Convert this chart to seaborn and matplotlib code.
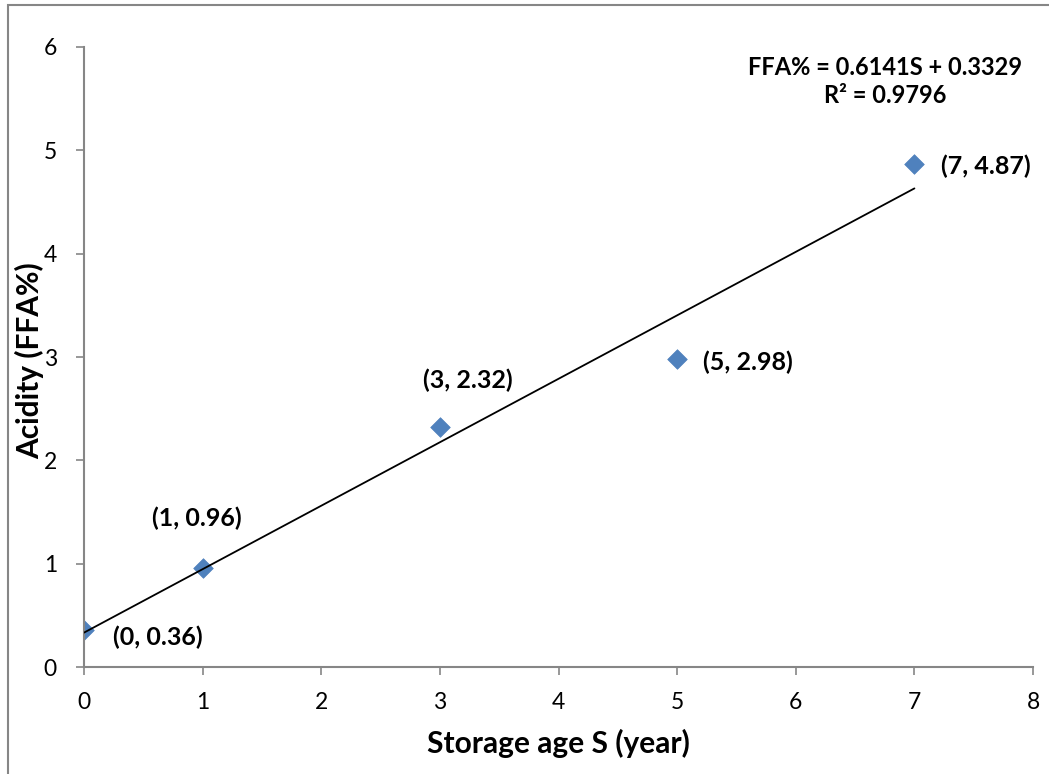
import numpy as np
import pandas as pd
import matplotlib
matplotlib.use("Agg")
import matplotlib.pyplot as plt
from matplotlib.patches import Rectangle
import seaborn as sns

# Storage age (years) and measured acidity (free fatty acid %)
storage_age = [0, 1, 3, 5, 7]
ffa_pct = [0.36, 0.96, 2.32, 2.98, 4.87]
x_ticks = [0, 1, 2, 3, 4, 5, 6, 7, 8]
y_ticks = [0, 1, 2, 3, 4, 5, 6]

sns.set_theme(style="white")
plt.rcParams["font.family"] = ["Lato", "DejaVu Sans"]

df = pd.DataFrame({"S": storage_age, "FFA": ffa_pct})

# Least-squares linear trend
slope, intercept = np.polyfit(df["S"], df["FFA"], 1)
pred = slope * df["S"] + intercept
r2 = 1 - ((df["FFA"] - pred) ** 2).sum() / ((df["FFA"] - df["FFA"].mean()) ** 2).sum()
trend = pd.DataFrame({"S": [min(storage_age), max(storage_age)]})
trend["FFA"] = slope * trend["S"] + intercept

axis_grey = "#868686"
marker_blue = "#4F81BD"

fig = plt.figure(figsize=(10.49, 7.74), dpi=100)
ax = fig.add_axes([0.0801, 0.1382, 0.9047, 0.8011])

sns.scatterplot(data=df, x="S", y="FFA", ax=ax, marker="D", s=100,
                color=marker_blue, edgecolor=marker_blue, linewidth=0.5, zorder=2)
sns.lineplot(data=trend, x="S", y="FFA", ax=ax, color="black", linewidth=1.3, zorder=3)

ax.set_xlim(0, 8)
ax.set_ylim(0, 6)
ax.set_xticks(x_ticks)
ax.set_yticks(y_ticks)
ax.tick_params(axis="both", which="major", labelsize=16.5, labelcolor="black",
               length=6, width=1.2, color=axis_grey, direction="out",
               bottom=True, left=True)
ax.tick_params(axis="x", pad=12)
ax.tick_params(axis="y", pad=13.5)
ax.set_xlabel("Storage age S (year)", fontsize=21.5, fontweight="bold", color="black")
ax.set_ylabel("Acidity (FFA%)", fontsize=21.5, fontweight="bold", color="black")
ax.xaxis.set_label_coords(0.5, -0.099)
ax.yaxis.set_label_coords(-0.042, 0.4935)

for side in ["top", "right"]:
    ax.spines[side].set_visible(False)
for side in ["left", "bottom"]:
    ax.spines[side].set_color(axis_grey)
    ax.spines[side].set_linewidth(1.5)

# Point labels: (dx, dy) in pixels from the marker, horizontal alignment
offsets = {0: (29, -7, "left"), 1: (-6, 50, "center"), 3: (28, 47, "center"),
           5: (26, -3, "left"), 7: (27, -3, "left")}
for s, f in zip(storage_age, ffa_pct):
    dx, dy, ha = offsets[s]
    ax.annotate(f"({s}, {f:g})", (s, f), xytext=(dx, dy), textcoords="offset pixels",
                ha=ha, va="center", fontsize=18, fontweight="bold", color="black")

ax.text(0.844, 0.985, f"FFA% = {slope:.4f}S + {intercept:.4f}\nR\u00b2 = {r2:.4f}",
        transform=ax.transAxes, ha="center", va="top", fontsize=17,
        fontweight="bold", linespacing=1.25, color="black")

# Chart-area frame
fig.patches.append(Rectangle((8 / 1049, -0.1), 1.2, 1.1 - 5 / 774, transform=fig.transFigure,
                             fill=False, edgecolor=axis_grey, linewidth=1.5))

fig.savefig("out.png", dpi=100, facecolor="white")
